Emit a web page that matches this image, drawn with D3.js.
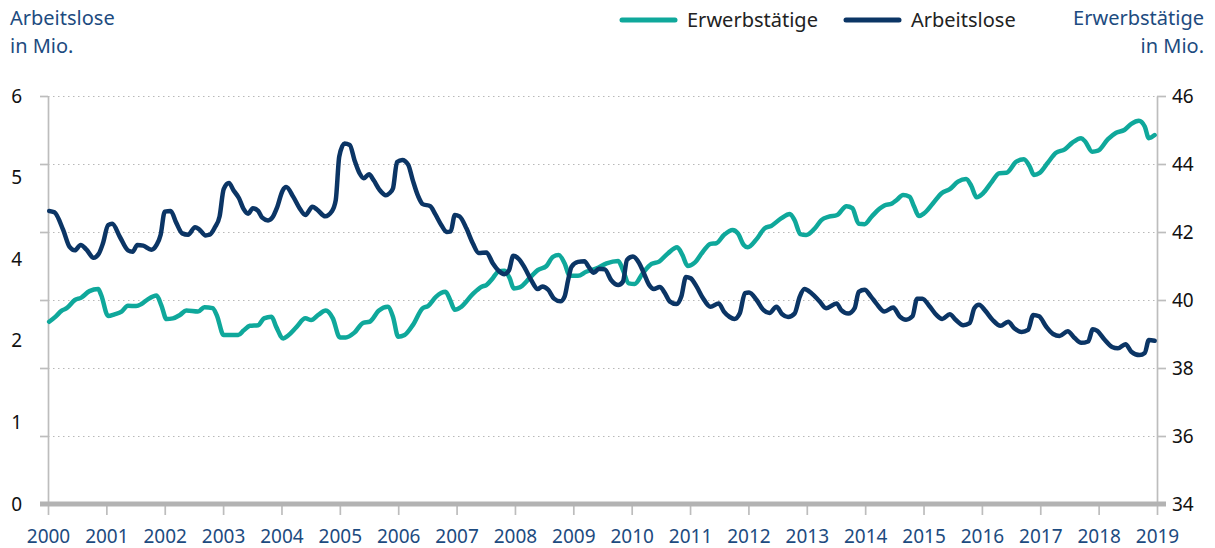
<!DOCTYPE html>
<html>
<head>
<meta charset="utf-8">
<script src="https://cdnjs.cloudflare.com/ajax/libs/d3/7.8.5/d3.min.js"></script>
<style>
body { margin: 0; background: #fff; }
svg text { font-family: "Noto Sans", "Open Sans", sans-serif; }
.grid line { stroke: #b8b8b8; stroke-dasharray: 1.5,3.5; }
.ax path, .ax line { stroke: #bdbdbd; stroke-width: 1.7; }
</style>
</head>
<body>
<div id="chart"></div>
<script>
// values (decimal year, Mio.)
var yearTicks = d3.range(2000, 2020);
var leftTicks = [0, 1.2, 2.4, 3.6, 4.8, 6];
var rightTicks = [34, 36, 38, 40, 42, 44, 46];

var arbeitslose = [
  [2000.02,4.31],[2000.11,4.29],[2000.26,4.03],[2000.37,3.78],[2000.46,3.73],[2000.56,3.81],[2000.66,3.74],[2000.78,3.62],[2000.87,3.68],[2000.94,3.83],
  [2001.03,4.10],[2001.10,4.12],[2001.23,3.93],[2001.37,3.73],[2001.45,3.71],[2001.53,3.81],[2001.63,3.80],[2001.77,3.74],[2001.86,3.81],[2001.93,3.96],
  [2002.00,4.30],[2002.10,4.31],[2002.20,4.13],[2002.30,3.98],[2002.40,3.96],[2002.52,4.07],[2002.59,4.04],[2002.70,3.95],[2002.77,3.96],[2002.86,4.07],[2002.94,4.23],
  [2003.01,4.63],[2003.10,4.72],[2003.18,4.61],[2003.27,4.50],[2003.35,4.34],[2003.43,4.27],[2003.51,4.35],[2003.60,4.31],[2003.67,4.21],[2003.77,4.17],[2003.85,4.22],[2003.92,4.35],
  [2004.02,4.61],[2004.08,4.66],[2004.20,4.52],[2004.31,4.35],[2004.41,4.25],[2004.53,4.37],[2004.61,4.33],[2004.75,4.23],[2004.86,4.30],[2004.93,4.47],[2004.99,5.11],
  [2005.08,5.30],[2005.17,5.28],[2005.25,5.06],[2005.34,4.86],[2005.41,4.79],[2005.50,4.85],[2005.58,4.76],[2005.68,4.62],[2005.79,4.54],[2005.85,4.57],[2005.91,4.64],[2005.98,5.03],
  [2006.07,5.06],[2006.17,4.99],[2006.25,4.76],[2006.34,4.53],[2006.42,4.41],[2006.55,4.38],[2006.63,4.27],[2006.74,4.10],[2006.83,4.00],[2006.90,4.01],[2006.97,4.25],
  [2007.05,4.23],[2007.17,4.05],[2007.28,3.83],[2007.38,3.69],[2007.51,3.70],[2007.62,3.54],[2007.72,3.43],[2007.82,3.38],[2007.90,3.44],[2007.97,3.65],
  [2008.07,3.60],[2008.17,3.47],[2008.28,3.29],[2008.39,3.16],[2008.47,3.20],[2008.57,3.15],[2008.67,3.02],[2008.78,2.98],[2008.85,3.05],[2008.91,3.29],[2008.97,3.49],
  [2009.08,3.56],[2009.19,3.57],[2009.27,3.48],[2009.35,3.40],[2009.44,3.46],[2009.54,3.45],[2009.65,3.29],[2009.77,3.22],[2009.85,3.27],[2009.92,3.59],
  [2010.02,3.64],[2010.13,3.54],[2010.21,3.39],[2010.30,3.22],[2010.38,3.16],[2010.48,3.19],[2010.57,3.10],[2010.65,2.98],[2010.77,2.94],[2010.85,3.05],[2010.93,3.34],
  [2011.01,3.32],[2011.11,3.20],[2011.22,3.03],[2011.35,2.90],[2011.49,2.95],[2011.58,2.83],[2011.68,2.75],[2011.76,2.72],[2011.85,2.80],[2011.94,3.10],
  [2012.01,3.11],[2012.14,3.00],[2012.25,2.86],[2012.36,2.81],[2012.48,2.90],[2012.58,2.79],[2012.68,2.75],[2012.79,2.80],[2012.88,3.05],[2012.96,3.16],
  [2013.08,3.10],[2013.22,2.98],[2013.33,2.88],[2013.51,2.95],[2013.59,2.85],[2013.71,2.80],[2013.82,2.88],[2013.89,3.12],[2013.99,3.15],
  [2014.10,3.05],[2014.19,2.95],[2014.33,2.83],[2014.48,2.89],[2014.59,2.76],[2014.70,2.71],[2014.81,2.76],[2014.89,3.02],[2014.98,3.02],
  [2015.11,2.90],[2015.22,2.78],[2015.32,2.72],[2015.45,2.79],[2015.55,2.71],[2015.68,2.63],[2015.79,2.66],[2015.87,2.88],[2015.95,2.93],
  [2016.06,2.84],[2016.18,2.71],[2016.32,2.62],[2016.45,2.68],[2016.56,2.58],[2016.68,2.53],[2016.79,2.56],[2016.88,2.78],[2016.98,2.76],
  [2017.10,2.61],[2017.22,2.50],[2017.33,2.47],[2017.47,2.54],[2017.59,2.44],[2017.70,2.37],[2017.82,2.39],[2017.90,2.57],[2017.97,2.55],
  [2018.10,2.42],[2018.23,2.31],[2018.33,2.29],[2018.46,2.35],[2018.56,2.24],[2018.70,2.19],[2018.79,2.22],[2018.86,2.41],[2018.96,2.40]
];

var erwerbstaetige = [
  [2000.02,39.36],[2000.13,39.51],[2000.23,39.68],[2000.32,39.76],[2000.46,40.00],[2000.57,40.07],[2000.71,40.26],[2000.86,40.32],[2000.91,40.15],
  [2001.03,39.53],[2001.14,39.58],[2001.26,39.66],[2001.37,39.83],[2001.51,39.82],[2001.60,39.88],[2001.71,40.02],[2001.86,40.13],[2001.94,39.85],
  [2002.03,39.44],[2002.14,39.46],[2002.26,39.56],[2002.37,39.69],[2002.57,39.66],[2002.68,39.79],[2002.82,39.76],[2002.89,39.56],
  [2003.01,38.97],[2003.14,38.97],[2003.26,38.97],[2003.35,39.10],[2003.46,39.24],[2003.60,39.26],[2003.70,39.46],[2003.83,39.51],[2003.91,39.21],
  [2004.03,38.87],[2004.11,38.95],[2004.26,39.21],[2004.41,39.46],[2004.51,39.41],[2004.63,39.56],[2004.76,39.69],[2004.88,39.46],
  [2005.00,38.90],[2005.10,38.90],[2005.25,39.04],[2005.40,39.33],[2005.51,39.36],[2005.67,39.69],[2005.82,39.80],[2005.91,39.51],
  [2006.00,38.92],[2006.11,38.97],[2006.25,39.26],[2006.42,39.76],[2006.51,39.82],[2006.65,40.10],[2006.81,40.24],[2006.89,40.00],[2006.97,39.71],
  [2007.08,39.80],[2007.28,40.18],[2007.43,40.39],[2007.51,40.44],[2007.62,40.64],[2007.71,40.83],[2007.82,40.86],[2007.91,40.64],[2007.98,40.34],
  [2008.08,40.37],[2008.25,40.64],[2008.39,40.88],[2008.54,41.00],[2008.65,41.27],[2008.75,41.32],[2008.85,41.08],[2008.94,40.71],
  [2009.08,40.71],[2009.22,40.83],[2009.40,40.93],[2009.57,41.08],[2009.77,41.15],[2009.85,40.88],[2009.95,40.49],
  [2010.05,40.47],[2010.19,40.79],[2010.34,41.06],[2010.47,41.13],[2010.62,41.37],[2010.78,41.55],[2010.87,41.32],[2010.96,41.00],
  [2011.08,41.10],[2011.22,41.42],[2011.35,41.65],[2011.45,41.67],[2011.58,41.91],[2011.73,42.06],[2011.82,41.96],[2011.92,41.62],[2011.99,41.55],
  [2012.14,41.79],[2012.28,42.11],[2012.39,42.18],[2012.56,42.40],[2012.71,42.53],[2012.79,42.35],[2012.89,41.94],[2012.99,41.91],
  [2013.14,42.11],[2013.25,42.35],[2013.38,42.45],[2013.52,42.50],[2013.68,42.76],[2013.78,42.70],[2013.89,42.24],[2013.99,42.23],
  [2014.11,42.45],[2014.25,42.69],[2014.33,42.78],[2014.46,42.84],[2014.54,42.94],[2014.65,43.09],[2014.76,43.04],[2014.84,42.74],[2014.92,42.47],
  [2015.01,42.55],[2015.16,42.84],[2015.31,43.14],[2015.45,43.26],[2015.59,43.48],[2015.73,43.56],[2015.82,43.35],[2015.91,43.02],
  [2016.02,43.14],[2016.16,43.45],[2016.30,43.73],[2016.42,43.74],[2016.59,44.07],[2016.72,44.14],[2016.82,43.92],[2016.89,43.68],[2016.99,43.74],
  [2017.13,44.04],[2017.27,44.33],[2017.42,44.43],[2017.55,44.63],[2017.70,44.76],[2017.77,44.66],[2017.89,44.36],[2017.99,44.39],
  [2018.16,44.73],[2018.30,44.92],[2018.44,45.00],[2018.56,45.18],[2018.69,45.27],[2018.79,45.10],[2018.86,44.76],[2018.96,44.85]
];

var TEAL = "#0fa89b", NAVY = "#0b3565", TITLE = "#1d4b80";

var svg = d3.select("#chart").append("svg").attr("width", 1215).attr("height", 548),
    margin = {top: 96, right: 58, bottom: 44, left: 48},
    width = +svg.attr("width") - margin.left - margin.right,
    height = +svg.attr("height") - margin.top - margin.bottom;

var x = d3.scaleLinear().domain([2000, 2019]).range([0, width]);
var yL = d3.scaleLinear().domain([0, 6]).range([height, 0]);
var yR = d3.scaleLinear().domain([34, 46]).range([height, 0]);

var g = svg.append("g")
    .attr("transform", "translate(" + margin.left + "," + margin.top + ")");

// dotted gridlines
g.append("g").attr("class", "grid")
    .call(d3.axisLeft(yR).tickValues(rightTicks.slice(1)).tickSize(-width).tickFormat(""))
    .call(function(s) { s.select(".domain").remove(); });

// left axis line + ticks at the grid positions
g.append("g").attr("class", "ax")
    .call(d3.axisLeft(yR).tickValues(rightTicks).tickSize(8).tickSizeOuter(0).tickFormat(""));

// left labels (rounded 1.2 steps)
g.append("g")
    .call(d3.axisLeft(yL).tickValues(leftTicks).tickFormat(d3.format(".0f")).tickSize(0).tickPadding(26))
    .call(function(s) { s.select(".domain").remove(); })
    .selectAll("text").attr("font-size", 19).attr("fill", "#111");

// right axis
g.append("g").attr("class", "ax")
    .attr("transform", "translate(" + width + ",0)")
    .call(d3.axisRight(yR).tickValues(rightTicks).tickSize(9).tickSizeOuter(0).tickPadding(6))
    .selectAll("text").attr("font-size", 19).attr("fill", "#111");

// x axis
g.append("g").attr("class", "ax")
    .attr("transform", "translate(0," + height + ")")
    .call(d3.axisBottom(x).tickValues(yearTicks).tickFormat(d3.format("d")).tickSize(11).tickPadding(15))
    .call(function(s) { s.select(".domain").remove(); })
    .selectAll("text").attr("font-size", 19).attr("fill", TITLE);

g.append("line")
    .attr("x1", -8).attr("x2", width + 9)
    .attr("y1", height).attr("y2", height)
    .attr("stroke", "#b3b3b3").attr("stroke-width", 5);

var lineR = d3.line().x(function(d) { return x(d[0]); }).y(function(d) { return yR(d[1]); }).curve(d3.curveMonotoneX);
var lineL = d3.line().x(function(d) { return x(d[0]); }).y(function(d) { return yL(d[1]); }).curve(d3.curveMonotoneX);

g.append("path").datum(erwerbstaetige)
    .attr("d", lineR).attr("fill", "none").attr("stroke", TEAL)
    .attr("stroke-width", 4.5).attr("stroke-linejoin", "round").attr("stroke-linecap", "round");

g.append("path").datum(arbeitslose)
    .attr("d", lineL).attr("fill", "none").attr("stroke", NAVY)
    .attr("stroke-width", 4.5).attr("stroke-linejoin", "round").attr("stroke-linecap", "round");

// axis titles
svg.append("text").attr("x", 10).attr("y", 25).attr("font-size", 20).attr("fill", TITLE).text("Arbeitslose");
svg.append("text").attr("x", 10).attr("y", 53).attr("font-size", 20).attr("fill", TITLE).text("in Mio.");
svg.append("text").attr("x", 1204).attr("y", 25).attr("text-anchor", "end").attr("font-size", 20).attr("fill", TITLE).text("Erwerbstätige");
svg.append("text").attr("x", 1204).attr("y", 53).attr("text-anchor", "end").attr("font-size", 20).attr("fill", TITLE).text("in Mio.");

// legend
var legend = [{name: "Erwerbstätige", color: TEAL, x: 622}, {name: "Arbeitslose", color: NAVY, x: 846}];
var lg = svg.selectAll(".lg").data(legend).enter().append("g").attr("class", "lg")
    .attr("transform", function(d) { return "translate(" + d.x + ",20)"; });
lg.append("line").attr("x1", 0).attr("x2", 53).attr("stroke", function(d) { return d.color; })
    .attr("stroke-width", 5).attr("stroke-linecap", "round");
lg.append("text").attr("x", 65).attr("y", 6.5).attr("font-size", 20).attr("fill", "#222")
    .text(function(d) { return d.name; });
</script>
</body>
</html>
